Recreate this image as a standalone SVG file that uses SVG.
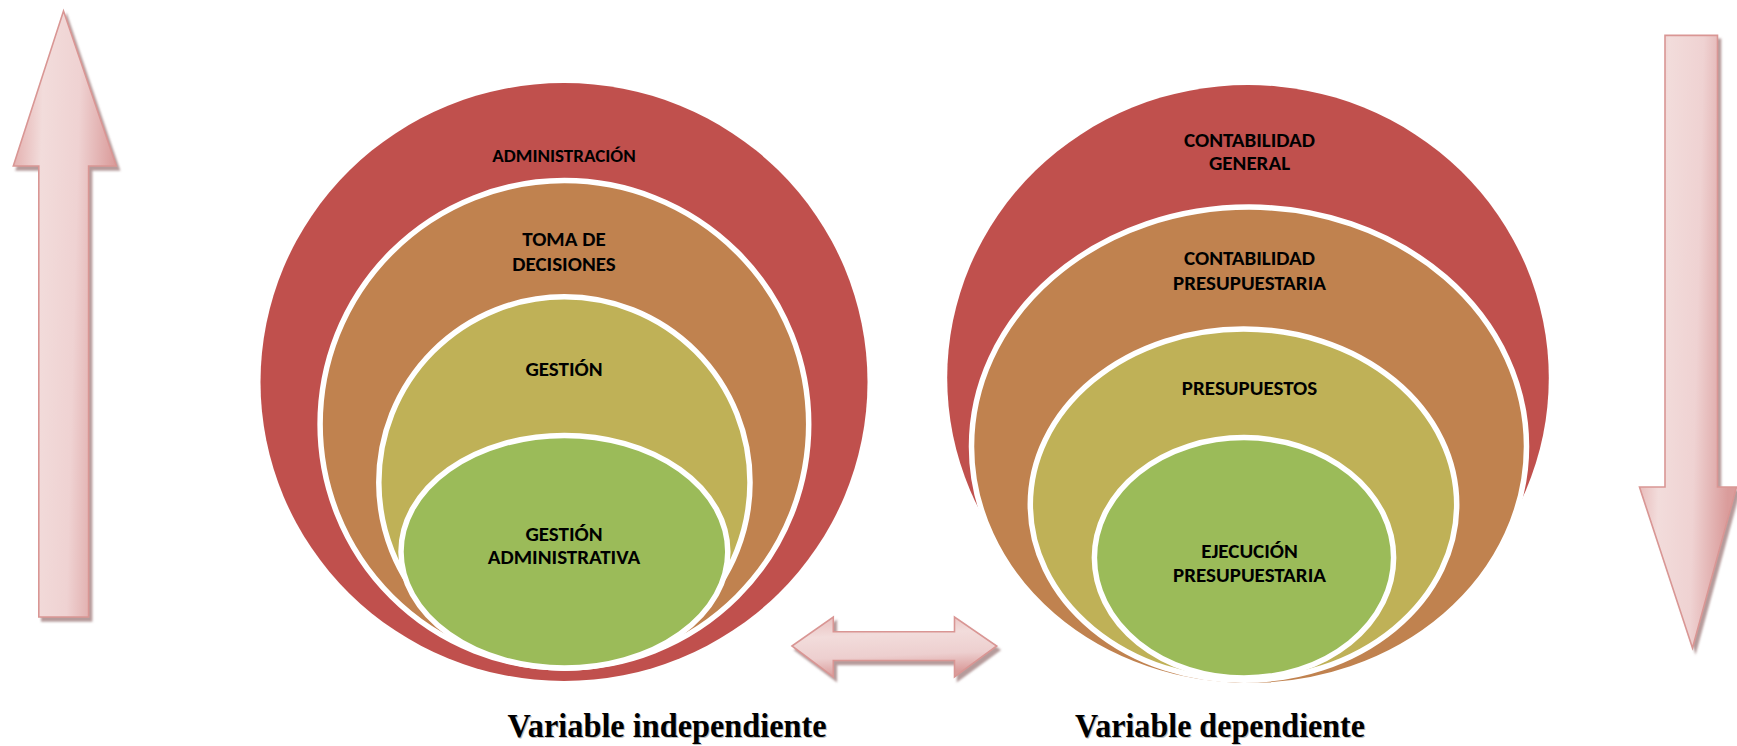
<svg xmlns="http://www.w3.org/2000/svg" width="1737" height="746" viewBox="0 0 1737 746">
  <defs>
    <linearGradient id="gV" x1="0" y1="0" x2="1" y2="0.15">
      <stop offset="0" stop-color="#E2ABAA"/>
      <stop offset="0.3" stop-color="#F2DCDB"/>
      <stop offset="0.65" stop-color="#EFD2D2"/>
      <stop offset="1" stop-color="#DA9C9B"/>
    </linearGradient>
    <linearGradient id="gH" x1="0" y1="0" x2="0.15" y2="1">
      <stop offset="0" stop-color="#E8BDBC"/>
      <stop offset="0.35" stop-color="#F2DCDB"/>
      <stop offset="0.7" stop-color="#EDCFCF"/>
      <stop offset="1" stop-color="#DA9C9B"/>
    </linearGradient>
    <filter id="sh" x="-20%" y="-20%" width="140%" height="140%">
      <feGaussianBlur in="SourceAlpha" stdDeviation="0.8"/>
      <feOffset dx="3" dy="4" result="o"/>
      <feFlood flood-color="#9E7A7A" flood-opacity="0.75"/>
      <feComposite in2="o" operator="in"/>
      <feMerge><feMergeNode/><feMergeNode in="SourceGraphic"/></feMerge>
    </filter>
  </defs>
  <style>
    .ring { stroke: #FFFFFF; stroke-width: 5.5; }
    .red { fill: #C0504D; }
    .ora { fill: #C0824F; }
    .yel { fill: #BFB157; }
    .grn { fill: #9BBB59; }
    .lbl { font-family: Carlito, Calibri, Lato, "Liberation Sans", sans-serif; font-weight: 900; fill: #000000; text-anchor: middle; dominant-baseline: central; font-size: 21px; }
    .small { font-size: 19px; }
    .arrow { stroke: #D99694; stroke-width: 1.6; stroke-linejoin: miter; filter: url(#sh); }
    .var { font-family: "Liberation Serif", "Times New Roman", serif; font-weight: bold; font-size: 34px; fill: #000000; }
    .varsh { font-family: "Liberation Serif", "Times New Roman", serif; font-weight: bold; font-size: 34px; fill: #BDBDBD; }
  </style>

  <rect width="1737" height="746" fill="#FFFFFF"/>

  <!-- Left nested diagram -->
  <g id="left-administracion">
    <ellipse class="red" cx="564" cy="382" rx="303.5" ry="299"/>
    <text class="lbl small" x="564" y="155">ADMINISTRACIÓN</text>
  </g>
  <g id="left-toma-decisiones">
    <ellipse class="ring ora" cx="564.4" cy="424.3" rx="244.3" ry="243.7"/>
    <text class="lbl" x="564" y="239">TOMA DE</text>
    <text class="lbl" x="564" y="263.5">DECISIONES</text>
  </g>
  <g id="left-gestion">
    <ellipse class="ring yel" cx="564.4" cy="482.4" rx="185.6" ry="185.6"/>
    <text class="lbl" x="564" y="369">GESTIÓN</text>
  </g>
  <g id="left-gestion-administrativa">
    <ellipse class="ring grn" cx="564.4" cy="551.7" rx="163.4" ry="116.3"/>
    <text class="lbl" x="564" y="534">GESTIÓN</text>
    <text class="lbl" x="564" y="557">ADMINISTRATIVA</text>
  </g>

  <!-- Right nested diagram -->
  <g id="right-contabilidad-general">
    <ellipse class="red" cx="1248" cy="378" rx="300.8" ry="293"/>
    <text class="lbl" x="1249.5" y="139.6">CONTABILIDAD</text>
    <text class="lbl" x="1249.5" y="162.8">GENERAL</text>
  </g>
  <g id="right-contabilidad-presupuestaria">
    <ellipse class="ring ora" cx="1249" cy="446.4" rx="277.5" ry="239.3"/>
    <text class="lbl" x="1249.5" y="258">CONTABILIDAD</text>
    <text class="lbl" x="1249.5" y="282.5">PRESUPUESTARIA</text>
  </g>
  <g id="right-presupuestos">
    <ellipse class="ring yel" cx="1243.5" cy="504.6" rx="213.2" ry="175.6"/>
    <text class="lbl" x="1249.5" y="387.7">PRESUPUESTOS</text>
  </g>
  <g id="right-ejecucion-presupuestaria">
    <ellipse class="ring grn" cx="1244" cy="557.8" rx="149.6" ry="120.2"/>
    <text class="lbl" x="1249.5" y="550.6">EJECUCIÓN</text>
    <text class="lbl" x="1249.5" y="575">PRESUPUESTARIA</text>
  </g>

  <!-- Block arrows -->
  <g id="connectors">
    <path id="arrow-up" class="arrow" fill="url(#gV)" d="M63.5,11 L116.3,166 L88.6,166 L88.6,617 L38.8,617 L38.8,166 L13.3,166 Z"/>
    <path id="arrow-down" class="arrow" fill="url(#gV)" d="M1665,35.4 L1717.5,35.4 L1717.5,487 L1736.5,487 L1692.5,648 L1639.5,487 L1665,487 Z"/>
    <path id="arrow-both" class="arrow" fill="url(#gH)" d="M792,646 L833.3,617 L833.3,631.7 L954.5,631.7 L954.5,617 L996.7,646 L954.5,677 L954.5,660.5 L833.3,660.5 L833.3,677 Z"/>
  </g>

  <!-- Captions -->
  <g id="caption-independiente">
    <text class="varsh" x="668" y="738" text-anchor="middle" textLength="319" lengthAdjust="spacingAndGlyphs">Variable independiente</text>
    <text class="var" x="667" y="737" text-anchor="middle" textLength="319" lengthAdjust="spacingAndGlyphs">Variable independiente</text>
  </g>
  <g id="caption-dependiente">
    <text class="varsh" x="1221" y="738" text-anchor="middle" textLength="290" lengthAdjust="spacingAndGlyphs">Variable dependiente</text>
    <text class="var" x="1220" y="737" text-anchor="middle" textLength="290" lengthAdjust="spacingAndGlyphs">Variable dependiente</text>
  </g>
</svg>
